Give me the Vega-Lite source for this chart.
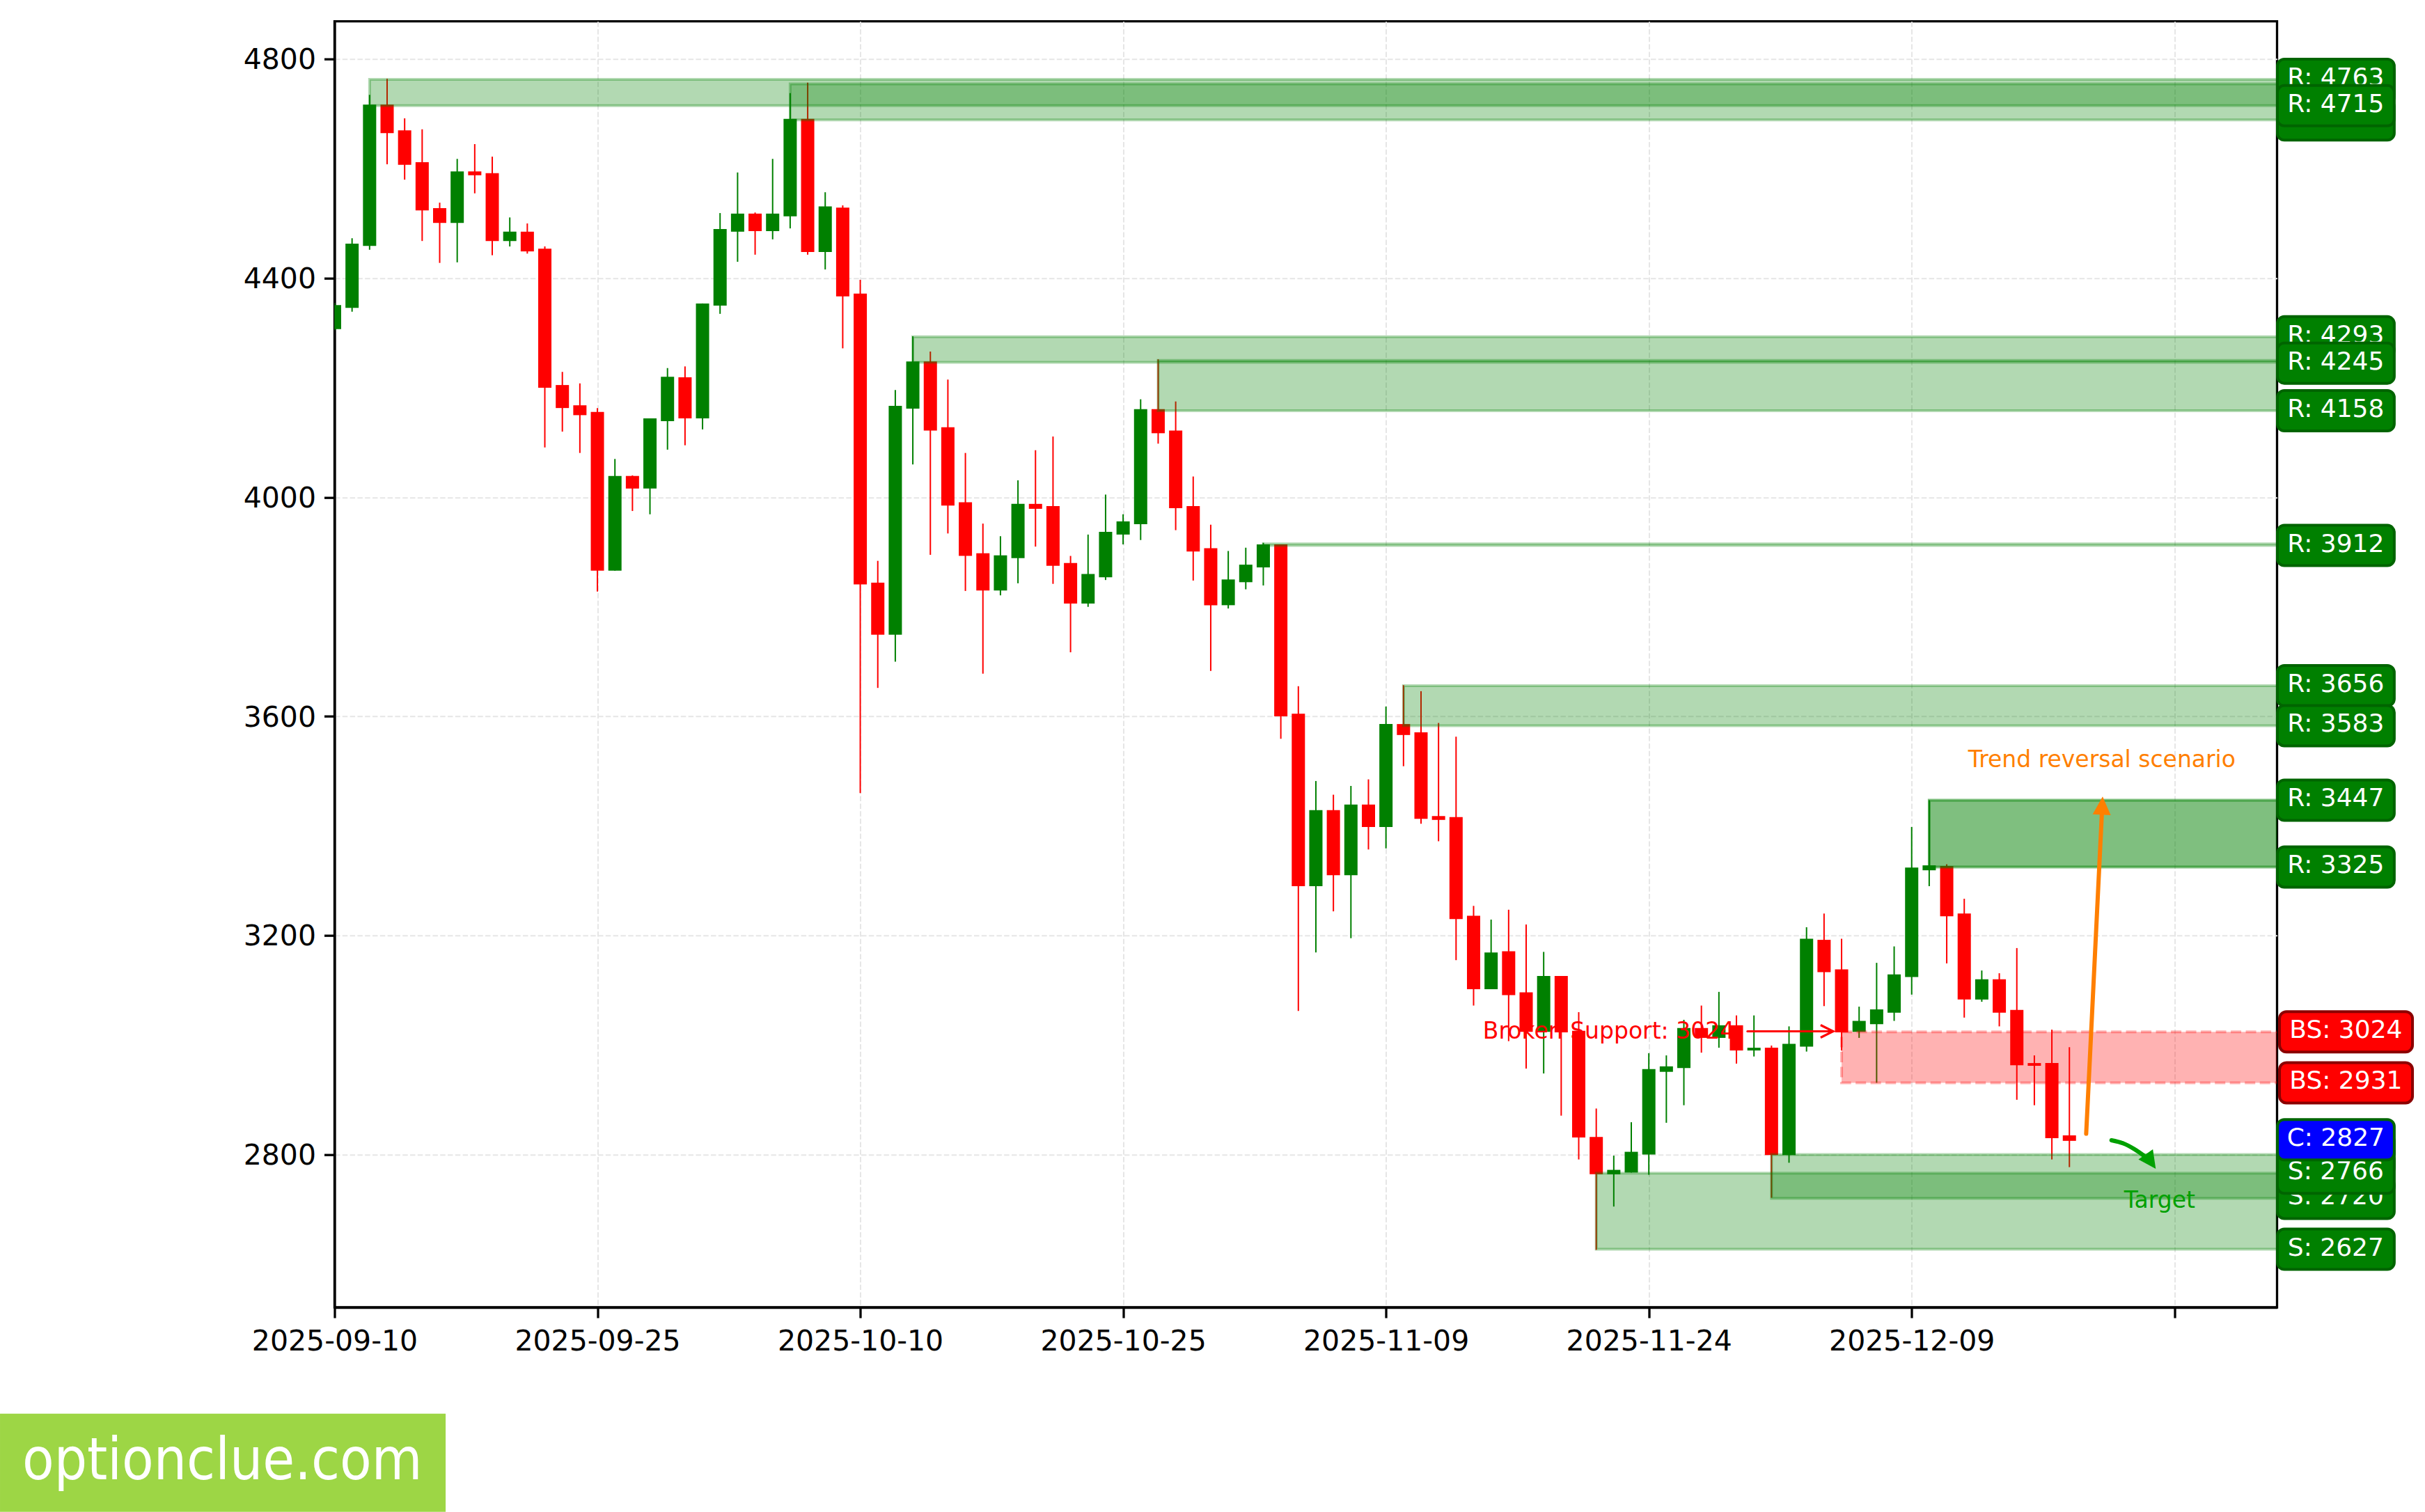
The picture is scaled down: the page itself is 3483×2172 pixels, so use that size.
{
"$schema":"https://vega.github.io/schema/vega-lite/v6.json",
"width":2790,"height":1847.3,
"autosize":"none",
"padding":{"left":480.5,"top":30.7,"right":212.5,"bottom":294},
"background":"white",
"view":{"stroke":"#000000","strokeWidth":3.3,"fill":"white"},
"config":{"font":"DejaVu Sans","axis":{"labelFont":"DejaVu Sans"},"text":{"font":"DejaVu Sans"}},
"datasets":{
"candles":[
{"date":"2025-09-10","open":4307,"high":4355,"low":4305,"close":4351},
{"date":"2025-09-11","open":4346,"high":4473,"low":4339,"close":4463},
{"date":"2025-09-12","open":4459,"high":4735,"low":4452,"close":4717},
{"date":"2025-09-13","open":4717,"high":4764,"low":4608,"close":4665},
{"date":"2025-09-14","open":4670,"high":4692,"low":4580,"close":4607},
{"date":"2025-09-15","open":4612,"high":4672,"low":4468,"close":4524},
{"date":"2025-09-16","open":4528,"high":4538,"low":4428,"close":4501},
{"date":"2025-09-17","open":4501,"high":4618,"low":4429,"close":4595},
{"date":"2025-09-18","open":4595,"high":4645,"low":4555,"close":4588},
{"date":"2025-09-19","open":4592,"high":4622,"low":4442,"close":4468},
{"date":"2025-09-20","open":4468,"high":4511,"low":4458,"close":4485},
{"date":"2025-09-21","open":4485,"high":4500,"low":4445,"close":4449},
{"date":"2025-09-22","open":4454,"high":4458,"low":4091,"close":4200},
{"date":"2025-09-23","open":4205,"high":4229,"low":4120,"close":4163},
{"date":"2025-09-24","open":4168,"high":4208,"low":4081,"close":4150},
{"date":"2025-09-25","open":4156,"high":4163,"low":3828,"close":3866},
{"date":"2025-09-26","open":3866,"high":4070,"low":3866,"close":4039},
{"date":"2025-09-27","open":4039,"high":4040,"low":3975,"close":4016},
{"date":"2025-09-28","open":4016,"high":4144,"low":3969,"close":4144},
{"date":"2025-09-29","open":4139,"high":4236,"low":4087,"close":4220},
{"date":"2025-09-30","open":4219,"high":4239,"low":4095,"close":4144},
{"date":"2025-10-01","open":4144,"high":4354,"low":4124,"close":4354},
{"date":"2025-10-02","open":4350,"high":4519,"low":4335,"close":4490},
{"date":"2025-10-03","open":4485,"high":4593,"low":4430,"close":4518},
{"date":"2025-10-04","open":4518,"high":4520,"low":4443,"close":4486},
{"date":"2025-10-05","open":4486,"high":4618,"low":4471,"close":4518},
{"date":"2025-10-06","open":4513,"high":4738,"low":4491,"close":4691},
{"date":"2025-10-07","open":4691,"high":4757,"low":4443,"close":4448},
{"date":"2025-10-08","open":4448,"high":4557,"low":4416,"close":4531},
{"date":"2025-10-09","open":4529,"high":4533,"low":4272,"close":4367},
{"date":"2025-10-10","open":4372,"high":4397,"low":3460,"close":3841},
{"date":"2025-10-11","open":3844,"high":3884,"low":3652,"close":3749},
{"date":"2025-10-12","open":3749,"high":4196,"low":3700,"close":4167},
{"date":"2025-10-13","open":4162,"high":4294,"low":4060,"close":4248},
{"date":"2025-10-14","open":4248,"high":4266,"low":3895,"close":4122},
{"date":"2025-10-15","open":4128,"high":4215,"low":3934,"close":3985},
{"date":"2025-10-16","open":3991,"high":4081,"low":3829,"close":3893},
{"date":"2025-10-17","open":3898,"high":3952,"low":3678,"close":3830},
{"date":"2025-10-18","open":3830,"high":3929,"low":3821,"close":3894},
{"date":"2025-10-19","open":3889,"high":4031,"low":3843,"close":3988},
{"date":"2025-10-20","open":3988,"high":4086,"low":3910,"close":3979},
{"date":"2025-10-21","open":3984,"high":4111,"low":3842,"close":3875},
{"date":"2025-10-22","open":3880,"high":3893,"low":3717,"close":3806},
{"date":"2025-10-23","open":3806,"high":3932,"low":3800,"close":3860},
{"date":"2025-10-24","open":3854,"high":4005,"low":3849,"close":3937},
{"date":"2025-10-25","open":3932,"high":3969,"low":3914,"close":3956},
{"date":"2025-10-26","open":3951,"high":4179,"low":3922,"close":4161},
{"date":"2025-10-27","open":4161,"high":4252,"low":4098,"close":4117},
{"date":"2025-10-28","open":4122,"high":4175,"low":3940,"close":3980},
{"date":"2025-10-29","open":3984,"high":4038,"low":3848,"close":3901},
{"date":"2025-10-30","open":3907,"high":3950,"low":3683,"close":3803},
{"date":"2025-10-31","open":3803,"high":3902,"low":3797,"close":3850},
{"date":"2025-11-01","open":3845,"high":3908,"low":3832,"close":3877},
{"date":"2025-11-02","open":3872,"high":3917,"low":3839,"close":3914},
{"date":"2025-11-03","open":3914,"high":3914,"low":3559,"close":3600},
{"date":"2025-11-04","open":3605,"high":3655,"low":3062,"close":3290},
{"date":"2025-11-05","open":3290,"high":3482,"low":3169,"close":3429},
{"date":"2025-11-06","open":3429,"high":3457,"low":3244,"close":3310},
{"date":"2025-11-07","open":3310,"high":3473,"low":3195,"close":3439},
{"date":"2025-11-08","open":3439,"high":3485,"low":3357,"close":3398},
{"date":"2025-11-09","open":3398,"high":3618,"low":3359,"close":3586},
{"date":"2025-11-10","open":3586,"high":3657,"low":3509,"close":3566},
{"date":"2025-11-11","open":3571,"high":3646,"low":3404,"close":3413},
{"date":"2025-11-12","open":3418,"high":3588,"low":3372,"close":3411},
{"date":"2025-11-13","open":3416,"high":3563,"low":3155,"close":3230},
{"date":"2025-11-14","open":3236,"high":3254,"low":3072,"close":3102},
{"date":"2025-11-15","open":3102,"high":3229,"low":3102,"close":3169},
{"date":"2025-11-16","open":3171,"high":3247,"low":3007,"close":3091},
{"date":"2025-11-17","open":3096,"high":3220,"low":2957,"close":3024},
{"date":"2025-11-18","open":3024,"high":3170,"low":2948,"close":3126},
{"date":"2025-11-19","open":3126,"high":3126,"low":2871,"close":3023},
{"date":"2025-11-20","open":3026,"high":3060,"low":2791,"close":2831},
{"date":"2025-11-21","open":2832,"high":2884,"low":2626,"close":2764},
{"date":"2025-11-22","open":2764,"high":2798,"low":2705,"close":2772},
{"date":"2025-11-23","open":2767,"high":2859,"low":2767,"close":2805},
{"date":"2025-11-24","open":2800,"high":2985,"low":2763,"close":2956},
{"date":"2025-11-25","open":2951,"high":2981,"low":2858,"close":2961},
{"date":"2025-11-26","open":2958,"high":3046,"low":2890,"close":3031},
{"date":"2025-11-27","open":3031,"high":3072,"low":2986,"close":3013},
{"date":"2025-11-28","open":3013,"high":3097,"low":2995,"close":3036},
{"date":"2025-11-29","open":3036,"high":3054,"low":2966,"close":2990},
{"date":"2025-11-30","open":2990,"high":3054,"low":2979,"close":2995},
{"date":"2025-12-01","open":2995,"high":2999,"low":2721,"close":2799},
{"date":"2025-12-02","open":2799,"high":3034,"low":2785,"close":3002},
{"date":"2025-12-03","open":2997,"high":3215,"low":2988,"close":3194},
{"date":"2025-12-04","open":3192,"high":3240,"low":3071,"close":3133},
{"date":"2025-12-05","open":3138,"high":3194,"low":2990,"close":3023},
{"date":"2025-12-06","open":3024,"high":3070,"low":3013,"close":3044},
{"date":"2025-12-07","open":3038,"high":3150,"low":2931,"close":3065},
{"date":"2025-12-08","open":3059,"high":3180,"low":3044,"close":3129},
{"date":"2025-12-09","open":3124,"high":3398,"low":3092,"close":3324},
{"date":"2025-12-10","open":3319,"high":3447,"low":3290,"close":3328},
{"date":"2025-12-11","open":3327,"high":3330,"low":3149,"close":3235},
{"date":"2025-12-12","open":3240,"high":3267,"low":3050,"close":3083},
{"date":"2025-12-13","open":3083,"high":3136,"low":3079,"close":3120},
{"date":"2025-12-14","open":3120,"high":3131,"low":3034,"close":3059},
{"date":"2025-12-15","open":3064,"high":3177,"low":2900,"close":2963},
{"date":"2025-12-16","open":2967,"high":2981,"low":2890,"close":2962},
{"date":"2025-12-17","open":2967,"high":3028,"low":2791,"close":2830},
{"date":"2025-12-18","open":2835,"high":2996,"low":2777,"close":2825}
],
"zones":[
{"start":"2025-09-12","top":4763,"bottom":4715,"kind":"plain"},
{"start":"2025-10-06","top":4755,"bottom":4689,"kind":"plain"},
{"start":"2025-10-13","top":4293,"bottom":4246.5,"kind":"plain"},
{"start":"2025-10-27","top":4250,"bottom":4158,"kind":"plain"},
{"start":"2025-11-02","top":3915,"bottom":3912,"kind":"plain"},
{"start":"2025-11-10","top":3656,"bottom":3583,"kind":"plain"},
{"start":"2025-11-21","top":2766,"bottom":2627,"kind":"plain"},
{"start":"2025-12-01","top":2800,"bottom":2720,"kind":"plain"},
{"start":"2025-12-10","top":3447,"bottom":3325,"kind":"strong"},
{"start":"2025-12-05","top":3024,"bottom":2931,"kind":"broken"}
],
"labels":[
{"value":4755,"text":"R: 4755","tier":1,"kind":"R"},
{"value":4689,"text":"R: 4689","tier":1,"kind":"R"},
{"value":2800,"text":"S: 2800","tier":1,"kind":"S"},
{"value":2720,"text":"S: 2720","tier":1,"kind":"S"},
{"value":4763,"text":"R: 4763","tier":2,"kind":"R"},
{"value":4293,"text":"R: 4293","tier":2,"kind":"R"},
{"value":4158,"text":"R: 4158","tier":2,"kind":"R"},
{"value":3912,"text":"R: 3912","tier":2,"kind":"R"},
{"value":3656,"text":"R: 3656","tier":2,"kind":"R"},
{"value":3583,"text":"R: 3583","tier":2,"kind":"R"},
{"value":3447,"text":"R: 3447","tier":2,"kind":"R"},
{"value":3325,"text":"R: 3325","tier":2,"kind":"R"},
{"value":2766,"text":"S: 2766","tier":2,"kind":"S"},
{"value":2627,"text":"S: 2627","tier":2,"kind":"S"},
{"value":4715,"text":"R: 4715","tier":3,"kind":"R"},
{"value":4245,"text":"R: 4245","tier":3,"kind":"R"},
{"value":2827,"text":"C: 2827","tier":3,"kind":"C"},
{"value":3024,"text":"BS: 3024","tier":2,"kind":"BS"},
{"value":2931,"text":"BS: 2931","tier":2,"kind":"BS"}
],
"arrows":[
{"series":"broken","date":"2025-11-29T15:07:00Z","value":3025},
{"series":"broken","date":"2025-12-04T12:29:00Z","value":3025},
{"series":"reversal","date":"2025-12-18T23:00:00Z","value":2838},
{"series":"reversal","date":"2025-12-19T21:00:00Z","value":3437},
{"series":"target","date":"2025-12-20T09:36:00Z","value":2826},
{"series":"target","date":"2025-12-21T02:24:00Z","value":2820},
{"series":"target","date":"2025-12-21T16:48:00Z","value":2810},
{"series":"target","date":"2025-12-22T12:00:00Z","value":2792}
],
"notes":[
{"text":"Broken Support: 3024","date":"2025-11-14T12:43:00Z","value":3022,"kind":"broken"},
{"text":"Trend reversal scenario","date":"2025-12-19T20:30:00Z","value":3518,"kind":"reversal"},
{"text":"Target","date":"2025-12-23T03:36:00Z","value":2713,"kind":"target"}
]
},
"layer":[
{"data":{"name":"candles"},"mark":{"type":"rule","strokeWidth":2,"clip":true},
 "encoding":{
  "x":{"field":"date","type":"temporal","title":null,
   "scale":{"type":"utc","domain":[1757462400000,1767039840000],"nice":false,"padding":0},
   "axis":{"title":null,"values":[1757462400000,1758758400000,1760054400000,1761350400000,1762646400000,1763942400000,1765238400000,1766534400000],
    "labelExpr":"datum.value >= 1766534400000 ? '' : utcFormat(datum.value,'%Y-%m-%d')",
    "labelFontSize":41,"labelColor":"#000000","labelPadding":14,"labelOverlap":false,"labelFlush":false,"labelAngle":0,"labelLimit":500,
    "tickSize":15,"tickWidth":3.3,"tickColor":"#000000","domainColor":"#000000","domainWidth":3.3,
    "grid":true,"gridColor":"#e6e6e6","gridDash":[7.5,3.3],"gridWidth":2,"zindex":0}},
  "y":{"field":"low","type":"quantitative","title":null,
   "scale":{"domain":[2521,4869],"nice":false,"zero":false,"padding":0},
   "axis":{"title":null,"values":[2800,3200,3600,4000,4400,4800],"format":"d",
    "labelFontSize":41,"labelColor":"#000000","labelPadding":12,"labelOffset":2,
    "tickSize":15,"tickWidth":3.3,"tickColor":"#000000","domainColor":"#000000","domainWidth":3.3,
    "grid":true,"gridColor":"#e6e6e6","gridDash":[7.5,3.3],"gridWidth":2,"zindex":0}},
  "y2":{"field":"high"},
  "color":{"condition":{"test":"datum.close>datum.open","value":"#008000"},"value":"#ff0000"}
 }},
{"data":{"name":"candles"},"mark":{"type":"bar","size":19,"clip":true,"orient":"vertical"},
 "encoding":{
  "x":{"field":"date","type":"temporal"},
  "y":{"field":"open","type":"quantitative"},
  "y2":{"field":"close"},
  "color":{"condition":{"test":"datum.close>datum.open","value":"#008000"},"value":"#ff0000"}
 }},
{"data":{"name":"zones"},"transform":[{"filter":"datum.kind==='plain'"}],
 "mark":{"type":"rect","clip":true,"fill":"#008000","fillOpacity":0.3,"stroke":"#008000","strokeOpacity":0.3,"strokeWidth":4},
 "encoding":{
  "x":{"field":"start","type":"temporal"},
  "x2":{"datum":1767300000000},
  "y":{"field":"top","type":"quantitative"},
  "y2":{"field":"bottom"}
 }},
{"data":{"name":"zones"},"transform":[{"filter":"datum.kind==='strong'"}],
 "mark":{"type":"rect","clip":true,"fill":"#008000","fillOpacity":0.5,"stroke":"#008000","strokeOpacity":0.5,"strokeWidth":4},
 "encoding":{
  "x":{"field":"start","type":"temporal"},
  "x2":{"datum":1767300000000},
  "y":{"field":"top","type":"quantitative"},
  "y2":{"field":"bottom"}
 }},
{"data":{"name":"zones"},"transform":[{"filter":"datum.kind==='broken'"}],
 "mark":{"type":"rect","clip":true,"fill":"#ff0000","fillOpacity":0.3,"stroke":"#ff0000","strokeOpacity":0.3,"strokeWidth":4,"strokeDash":[15,6.5]},
 "encoding":{
  "x":{"field":"start","type":"temporal"},
  "x2":{"datum":1767300000000},
  "y":{"field":"top","type":"quantitative"},
  "y2":{"field":"bottom"}
 }},
{"data":{"name":"arrows"},"transform":[{"filter":"datum.series==='broken'"}],
 "mark":{"type":"line","color":"#ff0000","strokeWidth":3.2,"strokeCap":"round"},
 "encoding":{"x":{"field":"date","type":"temporal"},"y":{"field":"value","type":"quantitative"}}},
{"data":{"name":"arrows"},"transform":[{"filter":"datum.series==='reversal'"}],
 "mark":{"type":"line","color":"#ff7f00","strokeWidth":6,"strokeCap":"round"},
 "encoding":{"x":{"field":"date","type":"temporal"},"y":{"field":"value","type":"quantitative"}}},
{"data":{"name":"arrows"},"transform":[{"filter":"datum.series==='target'"}],
 "mark":{"type":"line","color":"#00a000","strokeWidth":6,"strokeCap":"round","interpolate":"monotone"},
 "encoding":{"x":{"field":"date","type":"temporal"},"y":{"field":"value","type":"quantitative"}}},
{"data":{"values":[{"date":"2025-12-04T03:50:00Z","value":3025}]},
 "mark":{"type":"point","shape":"M-1,-1L1,0L-1,1","filled":false,"size":324,"color":"#ff0000","strokeWidth":3.2,"opacity":1},
 "encoding":{"x":{"field":"date","type":"temporal"},"y":{"field":"value","type":"quantitative"}}},
{"data":{"values":[{"date":"2025-12-19T20:53:00Z","value":3437}]},
 "mark":{"type":"point","shape":"M0,-1L1,1L-1,1Z","filled":true,"size":676,"color":"#ff7f00","angle":3,"opacity":1},
 "encoding":{"x":{"field":"date","type":"temporal"},"y":{"field":"value","type":"quantitative"}}},
{"data":{"values":[{"date":"2025-12-22T15:22:00Z","value":2787}]},
 "mark":{"type":"point","shape":"M0,-1L1,1L-1,1Z","filled":true,"size":640,"color":"#00a000","angle":145,"opacity":1},
 "encoding":{"x":{"field":"date","type":"temporal"},"y":{"field":"value","type":"quantitative"}}},
{"data":{"name":"notes"},"transform":[{"filter":"datum.kind==='broken'"}],
 "mark":{"type":"text","fontSize":33,"baseline":"middle","dy":-2,"align":"left","color":"#ff0000"},
 "encoding":{"x":{"field":"date","type":"temporal"},"y":{"field":"value","type":"quantitative"},"text":{"field":"text"}}},
{"data":{"name":"notes"},"transform":[{"filter":"datum.kind!=='broken'"}],
 "mark":{"type":"text","fontSize":33,"baseline":"middle","dy":-2,"align":"center"},
 "encoding":{
  "x":{"field":"date","type":"temporal"},
  "y":{"field":"value","type":"quantitative"},
  "text":{"field":"text"},
  "color":{"condition":{"test":"datum.kind==='reversal'","value":"#ff7f00"},"value":"#00a000"}
 }},
{"mark":{"type":"rule","color":"#000000","strokeWidth":3.3},"encoding":{"x":{"datum":1767039840000,"type":"temporal"}}},
{"mark":{"type":"rule","color":"#000000","strokeWidth":3.3},"encoding":{"x":{"datum":1757462400000,"type":"temporal"}}},
{"data":{"name":"labels"},"transform":[{"filter":"datum.tier===1"}],
 "mark":{"type":"bar","orient":"horizontal","size":58,"cornerRadius":10,"fill":"#008000","stroke":"#006400","strokeWidth":4},
 "encoding":{"x":{"datum":1767041568000,"type":"temporal"},"x2":{"datum":1767617856000},"y":{"field":"value","type":"quantitative"}}},
{"data":{"name":"labels"},"transform":[{"filter":"datum.tier===1"}],
 "mark":{"type":"text","fontSize":36,"color":"#ffffff","align":"center","baseline":"middle","dy":-2},
 "encoding":{"x":{"datum":1767329280000,"type":"temporal"},"y":{"field":"value","type":"quantitative"},"text":{"field":"text"}}},
{"data":{"name":"labels"},"transform":[{"filter":"datum.tier===2 && datum.kind!=='BS'"}],
 "mark":{"type":"bar","orient":"horizontal","size":58,"cornerRadius":10,"fill":"#008000","stroke":"#006400","strokeWidth":4},
 "encoding":{"x":{"datum":1767041568000,"type":"temporal"},"x2":{"datum":1767617856000},"y":{"field":"value","type":"quantitative"}}},
{"data":{"name":"labels"},"transform":[{"filter":"datum.tier===2 && datum.kind!=='BS'"}],
 "mark":{"type":"text","fontSize":36,"color":"#ffffff","align":"center","baseline":"middle","dy":-2},
 "encoding":{"x":{"datum":1767329280000,"type":"temporal"},"y":{"field":"value","type":"quantitative"},"text":{"field":"text"}}},
{"data":{"name":"labels"},"transform":[{"filter":"datum.kind==='BS'"}],
 "mark":{"type":"bar","orient":"horizontal","size":58,"cornerRadius":10,"fill":"#ff0000","stroke":"#8b0000","strokeWidth":4},
 "encoding":{"x":{"datum":1767051936000,"type":"temporal"},"x2":{"datum":1767707712000},"y":{"field":"value","type":"quantitative"}}},
{"data":{"name":"labels"},"transform":[{"filter":"datum.kind==='BS'"}],
 "mark":{"type":"text","fontSize":36,"color":"#ffffff","align":"center","baseline":"middle","dy":-2},
 "encoding":{"x":{"datum":1767379392000,"type":"temporal"},"y":{"field":"value","type":"quantitative"},"text":{"field":"text"}}},
{"data":{"name":"labels"},"transform":[{"filter":"datum.tier===3"}],
 "mark":{"type":"bar","orient":"horizontal","size":58,"cornerRadius":10,"stroke":"#006400","strokeWidth":4},
 "encoding":{"x":{"datum":1767041568000,"type":"temporal"},"x2":{"datum":1767617856000},"y":{"field":"value","type":"quantitative"},
  "fill":{"condition":{"test":"datum.kind==='C'","value":"#0000ff"},"value":"#008000"}}},
{"data":{"name":"labels"},"transform":[{"filter":"datum.tier===3"}],
 "mark":{"type":"text","fontSize":36,"color":"#ffffff","align":"center","baseline":"middle","dy":-2},
 "encoding":{"x":{"datum":1767329280000,"type":"temporal"},"y":{"field":"value","type":"quantitative"},"text":{"field":"text"}}},
{"data":{"values":[{"site":"optionclue.com"}]},
 "mark":{"type":"rect","fill":"#9dd645"},
 "encoding":{"x":{"datum":1755813024000,"type":"temporal"},"x2":{"datum":1758010176000},
  "y":{"datum":2326.7,"type":"quantitative"},"y2":{"datum":2147.5}}},
{"data":{"values":[{"site":"optionclue.com"}]},
 "mark":{"type":"text","fontSize":83,"font":"DejaVu Sans Condensed","color":"#ffffff","align":"left","baseline":"alphabetic"},
 "encoding":{"x":{"datum":1755922752000,"type":"temporal"},
  "y":{"datum":2207.2,"type":"quantitative"},"text":{"field":"site"}}}
]
}
